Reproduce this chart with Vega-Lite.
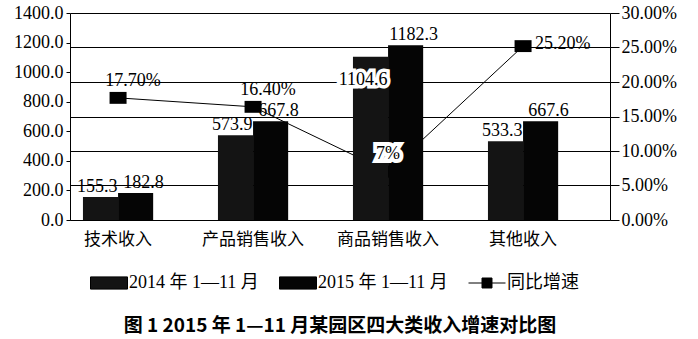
{
  "$schema": "https://vega.github.io/schema/vega-lite/v6.json",
  "width": 540,
  "height": 207,
  "autosize": {"type": "none"},
  "padding": {"left": 70, "top": 13, "right": 88, "bottom": 119},
  "background": "white",
  "config": {"view": {"stroke": null}, "font": "Liberation Serif"},
  "title": {
    "text": "图 1  2015 年 1—11 月某园区四大类收入增速对比图",
    "orient": "bottom",
    "anchor": "middle",
    "font": "Noto Sans CJK SC",
    "fontWeight": "bold",
    "fontSize": 19,
    "color": "black",
    "offset": 25
  },
  "datasets": {
    "income": [
      {"cat": "技术收入", "period": "2014 年 1—11 月", "value": 155.3},
      {"cat": "技术收入", "period": "2015 年 1—11 月", "value": 182.8},
      {"cat": "产品销售收入", "period": "2014 年 1—11 月", "value": 573.9},
      {"cat": "产品销售收入", "period": "2015 年 1—11 月", "value": 667.8},
      {"cat": "商品销售收入", "period": "2014 年 1—11 月", "value": 1104.6},
      {"cat": "商品销售收入", "period": "2015 年 1—11 月", "value": 1182.3},
      {"cat": "其他收入", "period": "2014 年 1—11 月", "value": 533.3},
      {"cat": "其他收入", "period": "2015 年 1—11 月", "value": 667.6}
    ],
    "growth": [
      {"cat": "技术收入", "rate": 0.177, "label": "17.70%"},
      {"cat": "产品销售收入", "rate": 0.164, "label": "16.40%"},
      {"cat": "商品销售收入", "rate": 0.07, "label": "7%"},
      {"cat": "其他收入", "rate": 0.252, "label": "25.20%"}
    ]
  },
  "encoding": {
    "x": {
      "field": "cat", "type": "nominal", "sort": null, "title": null,
      "scale": {"domain": ["技术收入", "产品销售收入", "商品销售收入", "其他收入"], "paddingInner": 0.48, "paddingOuter": 0.24, "align": 0.2},
      "axis": {
        "title": null, "labelAngle": 0, "labelFont": "Noto Sans CJK SC", "labelFontSize": 17, "labelColor": "black",
        "labelPadding": 11, "domainColor": "black", "domainWidth": 1, "grid": false, "ticks": false
      }
    }
  },
  "layer": [
    {
      "data": {"name": "growth"},
      "encoding": {
        "y": {
          "field": "rate", "type": "quantitative",
          "scale": {"domain": [0, 0.3], "nice": false},
          "axis": {
            "orient": "right", "title": null, "values": [0, 0.05, 0.1, 0.15, 0.2, 0.25, 0.3], "format": ".2%",
            "labelFont": "Liberation Serif", "labelFontSize": 18, "labelColor": "black", "labelPadding": 2,
            "tickSize": 9, "tickColor": "black", "domainColor": "black",
            "grid": true, "gridColor": "black", "gridOpacity": 1, "gridWidth": 1
          }
        }
      },
      "layer": [
        {"mark": {"type": "line", "color": "black", "strokeWidth": 1}},
        {"mark": {"type": "point", "shape": "M-1,-0.7H1V0.7H-1Z", "size": 289, "filled": true, "color": "black", "opacity": 1}}
      ]
    },
    {
      "data": {"name": "income"},
      "encoding": {
        "xOffset": {"field": "period", "type": "nominal", "sort": null},
        "y": {
          "field": "value", "type": "quantitative",
          "scale": {"domain": [0, 1400], "nice": false},
          "axis": {
            "orient": "left", "title": null, "values": [0, 200, 400, 600, 800, 1000, 1200, 1400], "format": ".1f",
            "labelFont": "Liberation Serif", "labelFontSize": 18, "labelColor": "black", "labelPadding": 3,
            "tickSize": 4, "tickColor": "black", "domainColor": "black", "grid": false
          }
        }
      },
      "layer": [
        {
          "mark": {"type": "bar"},
          "encoding": {
            "color": {
              "field": "period", "type": "nominal",
              "scale": {"domain": ["2014 年 1—11 月", "2015 年 1—11 月", "同比增速"], "range": ["#141414", "#050505", "#000000"]},
              "legend": {
                "orient": "none", "legendX": 20, "legendY": 251, "direction": "horizontal", "title": null,
                "labelFont": "Liberation Serif, Noto Sans CJK SC", "labelFontSize": 18, "labelColor": "black",
                "labelOffset": 1, "columnPadding": 18, "symbolSize": 1369, "symbolStrokeWidth": 1,
                "encode": {
                  "symbols": {
                    "update": {
                      "shape": {"signal": "datum.value === '同比增速' ? 'M-1,0H1M-0.27,-0.27H0.27V0.27H-0.27Z' : 'M-1,-0.33H1V0.33H-1Z'"},
                      "fill": {"value": "black"},
                      "stroke": {"value": "black"},
                      "opacity": {"value": 1}
                    }
                  }
                }
              }
            }
          }
        },
        {
          "transform": [{"filter": "datum.period === '2014 年 1—11 月' && datum.cat !== '商品销售收入'"}],
          "mark": {"type": "text", "align": "right", "baseline": "bottom", "dx": 17, "dy": -1, "fontSize": 18, "font": "Liberation Serif", "color": "black"},
          "encoding": {"text": {"field": "value", "type": "quantitative", "format": ".1f"}}
        },
        {
          "transform": [{"filter": "datum.period === '2014 年 1—11 月' && datum.cat === '商品销售收入'"}],
          "mark": {"type": "text", "align": "right", "baseline": "top", "dx": 17, "dy": 14, "fontSize": 18, "font": "Liberation Serif", "color": "white", "stroke": "white", "strokeWidth": 7, "strokeJoin": "miter"},
          "encoding": {"text": {"field": "value", "type": "quantitative", "format": ".1f"}}
        },
        {
          "transform": [{"filter": "datum.period === '2014 年 1—11 月' && datum.cat === '商品销售收入'"}],
          "mark": {"type": "text", "align": "right", "baseline": "top", "dx": 17, "dy": 14, "fontSize": 18, "font": "Liberation Serif", "color": "black"},
          "encoding": {"text": {"field": "value", "type": "quantitative", "format": ".1f"}}
        },
        {
          "transform": [{"filter": "datum.period === '2015 年 1—11 月'"}],
          "mark": {"type": "text", "align": "center", "baseline": "bottom", "dx": 8, "dy": -1, "fontSize": 18, "font": "Liberation Serif", "color": "black"},
          "encoding": {"text": {"field": "value", "type": "quantitative", "format": ".1f"}}
        }
      ]
    },
    {
      "data": {"name": "growth"},
      "encoding": {
        "y": {"field": "rate", "type": "quantitative", "scale": {"domain": [0, 0.3], "nice": false}, "axis": null},
        "text": {"field": "label", "type": "nominal"}
      },
      "layer": [
        {
          "transform": [{"filter": "datum.cat === '技术收入' || datum.cat === '产品销售收入'"}],
          "mark": {"type": "text", "align": "center", "baseline": "bottom", "dx": 15, "dy": -8, "fontSize": 18, "font": "Liberation Serif", "color": "black"}
        },
        {
          "transform": [{"filter": "datum.cat === '其他收入'"}],
          "mark": {"type": "text", "align": "left", "baseline": "middle", "dx": 12, "dy": -2, "fontSize": 18, "font": "Liberation Serif", "color": "black"}
        },
        {
          "transform": [{"filter": "datum.cat === '商品销售收入'"}],
          "mark": {"type": "text", "align": "center", "baseline": "middle", "dx": 0, "dy": -18, "fontSize": 18, "font": "Liberation Serif", "color": "white", "stroke": "white", "strokeWidth": 8, "strokeJoin": "miter"}
        },
        {
          "transform": [{"filter": "datum.cat === '商品销售收入'"}],
          "mark": {"type": "text", "align": "center", "baseline": "middle", "dx": 0, "dy": -18, "fontSize": 18, "font": "Liberation Serif", "color": "black"}
        }
      ]
    }
  ],
  "resolve": {"scale": {"y": "independent"}}
}
